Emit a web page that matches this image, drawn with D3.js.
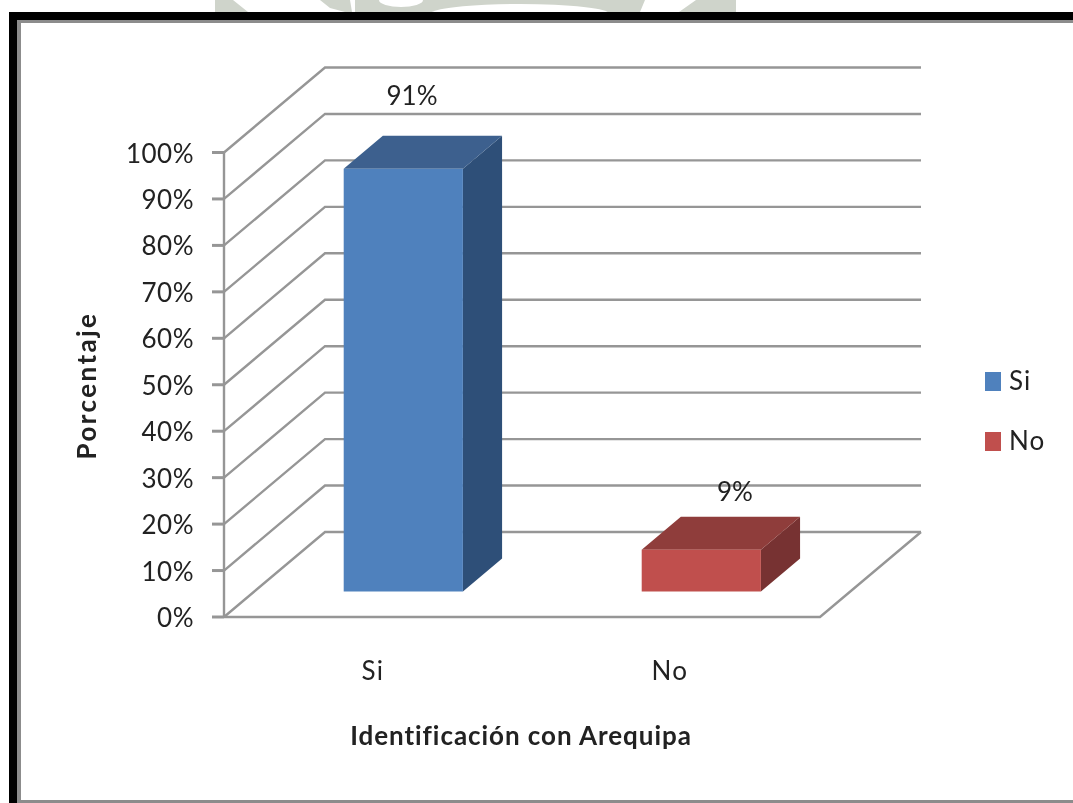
<!DOCTYPE html>
<html><head><meta charset="utf-8">
<script src="https://cdn.jsdelivr.net/npm/d3@7"></script>
<style>html,body{margin:0;padding:0;background:#fff}svg{display:block}text{font-family:Lato,"Open Sans",sans-serif;fill:#222}</style>
</head><body><div id="c"></div>
<script>
const categories = ["Si", "No"];
const values = [0.91, 0.09];
const dataLabels = ["91%", "9%"];
const colors = ["#4f81bd", "#c0504d"];
const topColors = ["#3c618e", "#8f3c3a"];
const sideColors = ["#2f4f78", "#773230"];
const yTicks = [0,0.1,0.2,0.3,0.4,0.5,0.6,0.7,0.8,0.9,1];
const yTitle = "Porcentaje", xTitle = "Identificación con Arequipa";

const W=1073,H=803;
const svg=d3.select("#c").append("svg").attr("width",W).attr("height",H);
const defs=svg.append("defs");
defs.append("filter").attr("id","soft").attr("x","-5%").attr("y","-5%").attr("width","110%").attr("height","110%")
  .append("feGaussianBlur").attr("stdDeviation",0.6);
const g=svg.append("g").attr("filter","url(#soft)");

// watermark showing above the frame
const wm=g.append("g").attr("fill","#cfd4cb");
wm.append("path").attr("d","M215,0L233,0L248,12L215,12Z");
wm.append("path").attr("d","M320,0L350,0L352,12L345,12L330,8Z");
wm.append("path").attr("d","M355,0L645,0L640,12L355,12Z");
wm.append("path").attr("d","M679,12L696,0L700,0L712,0L736,0L736,12Z");
wm.append("ellipse").attr("cx",401).attr("cy",0).attr("rx",22).attr("ry",7).attr("fill","#fff");
wm.append("ellipse").attr("cx",520).attr("cy",14).attr("rx",90).attr("ry",10).attr("fill","#fff");

// frame
g.append("rect").attr("x",9).attr("y",12).attr("width",W).attr("height",H).attr("fill","#000");
g.append("rect").attr("x",17).attr("y",20).attr("width",W).attr("height",H).attr("fill","#8c8c8c");
g.append("rect").attr("x",21).attr("y",23).attr("width",W).attr("height",777).attr("fill","#fff");

// plot geometry
const y=d3.scaleLinear().domain([0,1]).range([617,152.5]);
const x=d3.scaleBand().domain(categories).range([224,820]).paddingInner(0.6).paddingOuter(0.3);
const depth=d3.scaleLinear().domain([0,1]).range([0,1]);
const DX=101,DY=-85, grid="#969696";
const ox=d=>depth(d)*DX, oy=d=>depth(d)*DY;
const line=d3.line();
const x0=x.range()[0], x1=x.range()[1];

const gg=g.append("g").attr("fill","none").attr("stroke",grid).attr("stroke-width",2.4);
yTicks.forEach(t=>{
  gg.append("path").attr("d",line([[x0,y(t)],[x0+ox(1),y(t)+oy(1)],[x1+ox(1),y(t)+oy(1)]]));
  gg.append("path").attr("d",line([[x0-12,y(t)],[x0,y(t)]])).attr("stroke-width",3);
});
gg.append("path").attr("d",line([[x0,y(0)],[x0,y(1)]]));
gg.append("path").attr("d",line([[x0,y(0)],[x1,y(0)],[x1+ox(1),y(0)+oy(1)]]));

// bars
const front=0.3, back=0.7;
const labelX=[412,735], labelY=[105,501], catX=[373,670];
categories.forEach((c,i)=>{
  const b=g.append("g");
  const xl=x(c)+ox(front), xr=xl+x.bandwidth();
  const yb=y(0)+oy(front), yt=yb-(y(0)-y(values[i]));
  const dx=ox(back-front)*0.97, dy=oy(back-front)*0.97;
  b.append("path").attr("fill",sideColors[i]).attr("d",line([[xr,yb],[xr+dx,yb+dy],[xr+dx,yt+dy],[xr,yt]])+"Z");
  b.append("path").attr("fill",topColors[i]).attr("d",line([[xl,yt],[xl+dx,yt+dy],[xr+dx,yt+dy],[xr,yt]])+"Z");
  b.append("rect").attr("x",xl).attr("y",yt).attr("width",x.bandwidth()).attr("height",yb-yt).attr("fill",colors[i]);
  g.append("text").attr("x",labelX[i]).attr("y",labelY[i]).attr("text-anchor","middle").attr("font-size",26).text(dataLabels[i]);
  g.append("text").attr("x",catX[i]).attr("y",680).attr("text-anchor","middle").attr("font-size",26).attr("letter-spacing",1.5).text(c);
});

// y labels
yTicks.forEach(t=>g.append("text").attr("x",194).attr("y",y(t)+10).attr("text-anchor","end").attr("font-size",26).attr("letter-spacing",0.5).text(d3.format(".0%")(t)));

// titles
g.append("text").attr("transform","translate(96,385.5) rotate(-90)").attr("text-anchor","middle").attr("font-size",26).attr("letter-spacing",2.4).attr("font-weight",700).text(yTitle);
g.append("text").attr("x",521).attr("y",745).attr("text-anchor","middle").attr("font-size",26).attr("letter-spacing",0.95).attr("font-weight",700).text(xTitle);

// legend
categories.forEach((c,i)=>{
  const ly=[372,432][i];
  g.append("rect").attr("x",985).attr("y",ly).attr("width",16).attr("height",19).attr("fill",colors[i]);
  g.append("text").attr("x",1009).attr("y",ly+18).attr("font-size",26).attr("letter-spacing",1).text(c);
});
</script></body></html>
